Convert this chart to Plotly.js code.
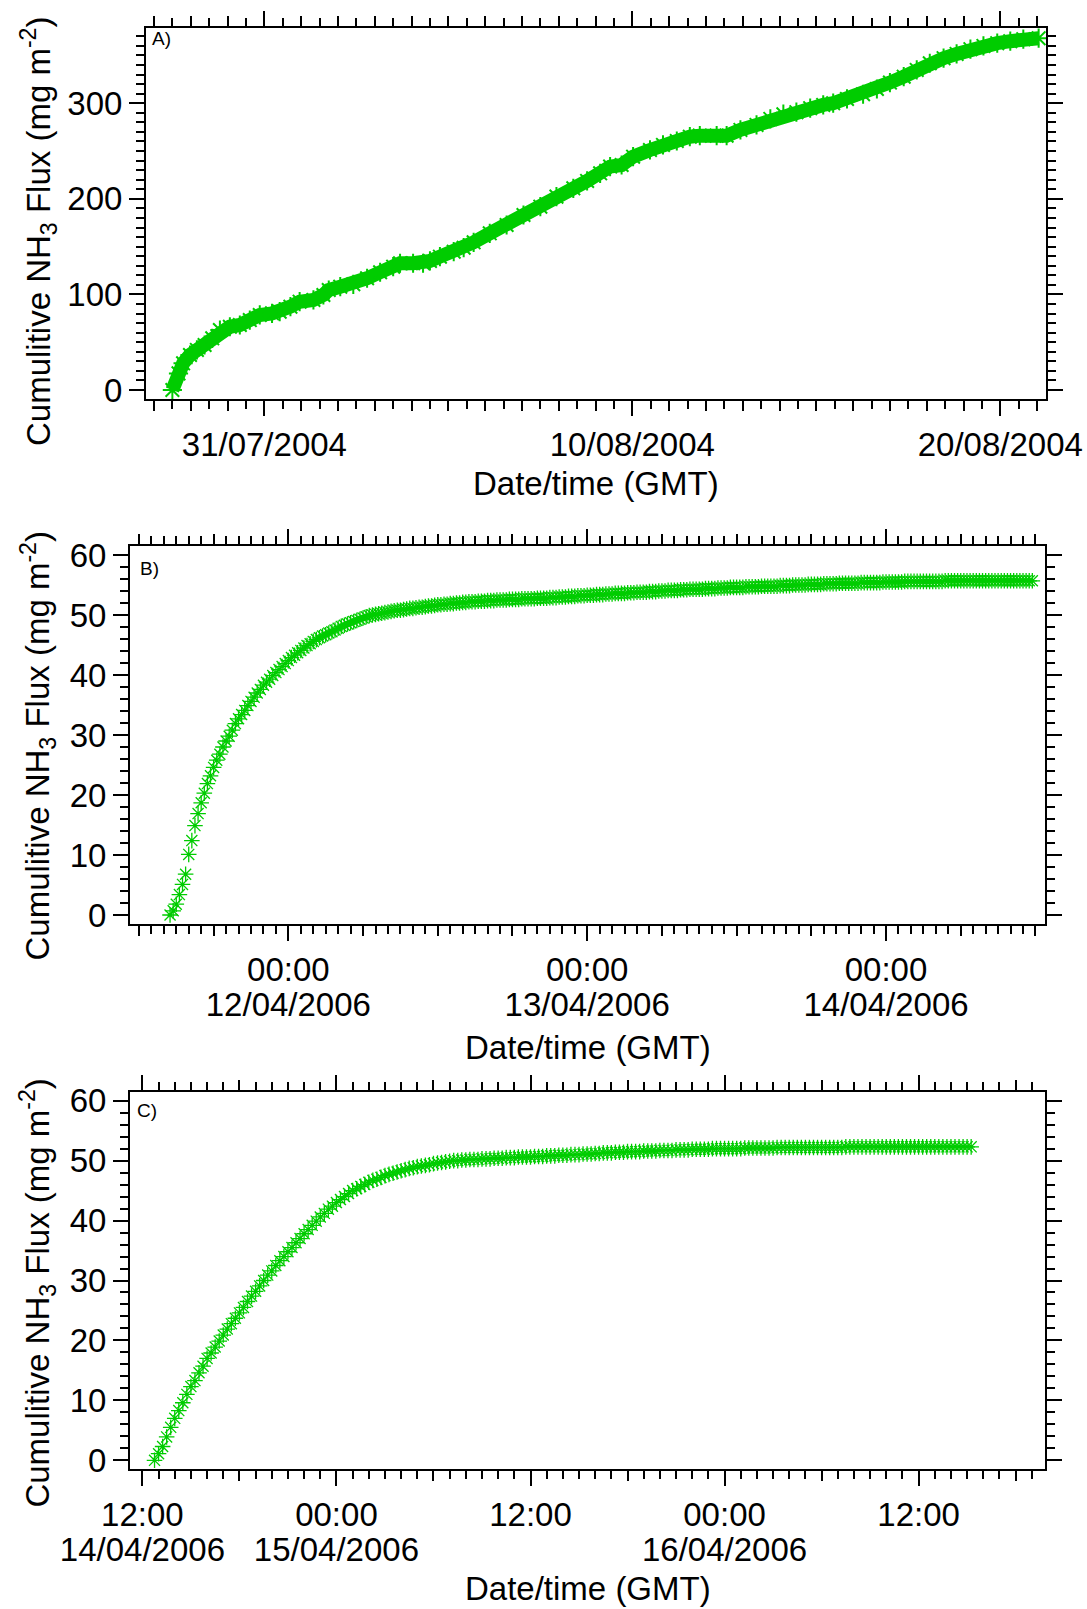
<!DOCTYPE html>
<html><head><meta charset="utf-8">
<script src="https://cdn.plot.ly/plotly-3.0.1.min.js"></script>
<style>body{margin:0;background:#fff}#chart{width:1087px;height:1609px}</style>
</head><body><div id="chart"></div>
<script>
// ---------------- DATA ----------------
// Panel A: cumulative flux, summer 2004 (read along the marker band)
const aTimes = ['2004-07-28 12:00','2004-07-28 16:00','2004-07-28 19:00','2004-07-28 23:30','2004-07-29 04:00','2004-07-29 09:00','2004-07-29 14:00','2004-07-29 19:00','2004-07-30 01:30','2004-07-30 08:00','2004-07-30 14:30','2004-07-30 21:00','2004-07-31 05:00','2004-07-31 10:00','2004-07-31 17:00','2004-07-31 23:00','2004-08-01 08:00','2004-08-01 14:30','2004-08-01 18:00','2004-08-02 01:30','2004-08-02 10:00','2004-08-02 19:00','2004-08-03 03:30','2004-08-03 12:00','2004-08-03 16:30','2004-08-04 01:00','2004-08-04 07:30','2004-08-04 12:00','2004-08-04 18:30','2004-08-05 03:30','2004-08-05 10:00','2004-08-05 16:30','2004-08-06 03:00','2004-08-06 14:00','2004-08-07 01:00','2004-08-07 12:00','2004-08-07 22:30','2004-08-08 09:30','2004-08-08 18:30','2004-08-09 03:00','2004-08-09 09:30','2004-08-09 17:00','2004-08-10 00:30','2004-08-10 11:30','2004-08-10 20:00','2004-08-11 05:00','2004-08-11 13:30','2004-08-11 20:00','2004-08-12 07:00','2004-08-12 13:30','2004-08-12 22:30','2004-08-13 09:00','2004-08-13 18:00','2004-08-14 02:30','2004-08-14 11:00','2004-08-14 20:00','2004-08-15 04:30','2004-08-15 11:00','2004-08-15 20:00','2004-08-16 06:30','2004-08-16 15:30','2004-08-17 00:00','2004-08-17 09:00','2004-08-17 17:30','2004-08-18 02:00','2004-08-18 11:00','2004-08-18 19:30','2004-08-19 04:30','2004-08-19 13:00','2004-08-19 22:00','2004-08-20 06:30','2004-08-20 15:00','2004-08-21 01:00'];
const aFlux = [0,17.4,27.9,36.6,41.9,47.1,54.1,62.8,66.2,68.0,73.2,78.5,80.2,81.9,87.2,92.4,94.2,99.4,104.6,108.1,110.6,116.9,123.2,129.0,132.6,132.6,132.6,135.0,139.5,144.7,148.9,154.5,163.9,172.6,183.1,191.8,202.3,211.0,218.7,226.7,233.7,235.4,244.1,251.1,256.4,260.5,265.0,266.1,266.1,266.1,272.1,277.3,283.6,288.5,290.6,294.8,298.2,300.0,304.5,309.4,314.9,321.6,327.8,334.8,341.8,347.1,351.6,356.5,359.9,362.8,364.9,367.0,368.0];

// Panel B: 15-minute samples starting 11/04/2006 14:30
const bStart = '2006-04-11 14:30';
const bStepMinutes = 15;
const bFlux = [0,0.7,1.8,3.4,5.1,6.8,10.1,12.4,14.9,16.9,
18.7,20.3,21.9,23.2,24.6,25.8,26.8,28.0,29.0,29.8,
30.8,31.9,32.7,33.4,34.1,34.9,35.6,36.3,37.0,37.6,
38.3,38.8,39.3,39.9,40.4,40.9,41.4,41.9,42.4,42.9,
43.3,43.7,44.1,44.5,44.9,45.2,45.6,45.9,46.2,46.5,
46.7,47.0,47.2,47.5,47.8,48.1,48.3,48.5,48.7,48.9,
49.1,49.3,49.5,49.7,49.9,50.0,50.1,50.2,50.3,50.4,
50.5,50.6,50.7,50.8,50.8,50.9,51.0,51.1,51.1,51.2,
51.3,51.3,51.4,51.5,51.5,51.6,51.7,51.7,51.8,51.8,
51.9,51.9,52.0,52.0,52.1,52.1,52.2,52.2,52.2,52.3,
52.3,52.3,52.4,52.4,52.4,52.5,52.5,52.5,52.5,52.6,
52.6,52.6,52.6,52.7,52.7,52.7,52.7,52.7,52.8,52.8,
52.8,52.8,52.9,52.9,52.9,53.0,53.0,53.0,53.1,53.1,
53.1,53.2,53.2,53.2,53.3,53.3,53.3,53.4,53.4,53.4,
53.5,53.5,53.5,53.6,53.6,53.6,53.6,53.7,53.7,53.7,
53.8,53.8,53.8,53.8,53.9,53.9,53.9,54.0,54.0,54.0,
54.1,54.1,54.1,54.1,54.2,54.2,54.2,54.3,54.3,54.3,
54.3,54.3,54.4,54.4,54.4,54.4,54.5,54.5,54.5,54.5,
54.6,54.6,54.6,54.6,54.6,54.7,54.7,54.7,54.7,54.7,
54.8,54.8,54.8,54.8,54.8,54.8,54.9,54.9,54.9,54.9,
55.0,55.0,55.0,55.0,55.0,55.1,55.1,55.1,55.1,55.1,
55.2,55.2,55.2,55.2,55.2,55.3,55.3,55.3,55.3,55.3,
55.3,55.3,55.4,55.4,55.4,55.4,55.4,55.4,55.4,55.5,
55.5,55.5,55.5,55.5,55.5,55.5,55.6,55.6,55.6,55.6,
55.6,55.6,55.6,55.6,55.6,55.6,55.6,55.6,55.6,55.7,
55.7,55.7,55.7,55.7,55.7,55.7,55.7,55.7,55.7,55.7,
55.7,55.7,55.7,55.7,55.7,55.7,55.7,55.7,55.7,55.7,
55.7,55.7,55.7,55.7,55.7,55.7,55.7,55.7];

// Panel C: 15-minute samples starting 14/04/2006 12:45
const cStart = '2006-04-14 12:45';
const cStepMinutes = 15;
const cFlux = [0,1.1,2.3,3.9,5.5,7.0,8.3,9.6,11.0,12.3,
13.3,14.6,15.7,17.0,17.9,18.9,19.9,20.9,21.9,22.8,
23.7,24.6,25.5,26.5,27.4,28.2,29.1,30.0,30.9,31.6,
32.5,33.3,34.0,34.8,35.5,36.3,37.0,37.8,38.5,39.2,
39.9,40.6,41.2,41.9,42.4,43.0,43.5,44.0,44.5,45.0,
45.3,45.7,46.0,46.4,46.7,46.9,47.2,47.5,47.7,47.9,
48.1,48.3,48.5,48.7,48.8,49.0,49.1,49.2,49.3,49.5,
49.6,49.7,49.8,49.9,50.0,50.0,50.1,50.1,50.2,50.2,
50.2,50.3,50.3,50.3,50.4,50.4,50.4,50.5,50.5,50.5,
50.6,50.6,50.6,50.6,50.7,50.7,50.7,50.8,50.8,50.8,
50.9,50.9,50.9,51.0,51.0,51.0,51.1,51.1,51.1,51.2,
51.2,51.3,51.3,51.3,51.4,51.4,51.4,51.5,51.5,51.5,
51.5,51.6,51.6,51.6,51.6,51.7,51.7,51.7,51.7,51.8,
51.8,51.8,51.8,51.9,51.9,51.9,51.9,51.9,52.0,52.0,
52.0,52.0,52.0,52.0,52.0,52.0,52.1,52.1,52.1,52.1,
52.1,52.1,52.1,52.1,52.2,52.2,52.2,52.2,52.2,52.2,
52.2,52.2,52.2,52.2,52.2,52.2,52.2,52.2,52.2,52.2,
52.2,52.3,52.3,52.3,52.3,52.3,52.3,52.3,52.3,52.3,
52.3,52.3,52.3,52.3,52.3,52.3,52.3,52.3,52.3,52.3,
52.3,52.3,52.3,52.3,52.3,52.3,52.3,52.3,52.3,52.3,
52.3,52.3,52.3];

// Tick labels
const aTickVals = ['2004-07-31','2004-08-10','2004-08-20'];
const aTickText = ['31/07/2004','10/08/2004','20/08/2004'];
const bTickVals = ['2006-04-12','2006-04-13','2006-04-14'];
const bTimeText = ['00:00','00:00','00:00'];
const bDateText = ['12/04/2006','13/04/2006','14/04/2006'];
const cTickVals = ['2006-04-14 12:00','2006-04-15 00:00','2006-04-15 12:00','2006-04-16 00:00','2006-04-16 12:00'];
const cTimeText = ['12:00','00:00','12:00','00:00','12:00'];
const cDateVals = ['2006-04-14 12:00','2006-04-15 00:00','2006-04-16 00:00'];
const cDateText = ['14/04/2006','15/04/2006','16/04/2006'];
const panelLabels = ['A)','B)','C)'];
const yTitle = 'Cumulitive NH<sub>3</sub> Flux (mg m<sup>-2</sup>)';
const xTitle = 'Date/time (GMT)';

// ---------------- BUILD ----------------
function timeBase(start, stepMin, n){
  const t0 = Date.parse(start.replace(' ','T') + ':00Z');
  const out = [];
  for (let i = 0; i < n; i++) out.push(new Date(t0 + i*stepMin*60000).toISOString().slice(0,16).replace('T',' '));
  return out;
}
const bTimes = timeBase(bStart, bStepMinutes, bFlux.length);
const cTimes = timeBase(cStart, cStepMinutes, cFlux.length);

const W = 1087, H = 1609;
const GREEN = '#00CC00';
const FONT = 'Liberation Sans, Arial, sans-serif';
const FS = 33;
const px = v => v / W;
const py = v => 1 - v / H;

const frames = {
  A: {l:146, r:1046, t:27.7, b:399},
  B: {l:130, r:1045, t:546, b:924},
  C: {l:130, r:1045, t:1091.7, b:1469.3}
};
const HOUR = 3600000, DAY = 86400000;

function xMain(f, range, vals, text, minorDtick, minorTick0, anchor){
  return {type:'date', domain:[px(f.l), px(f.r)], range, anchor,
    tickmode:'array', tickvals:vals, ticktext:text,
    ticks:'outside', ticklen:15, tickwidth:2, tickcolor:'#000',
    showline:true, linewidth:2, linecolor:'#000', mirror:'ticks',
    showgrid:false, zeroline:false, automargin:false, fixedrange:true,
    tickfont:{family:FONT, size:FS, color:'#000'},
    minor:{tickmode:'linear', dtick:minorDtick, tick0:minorTick0, ticks:'outside', ticklen:8, tickwidth:2, tickcolor:'#000', showgrid:false}};
}
function xMid(over, anchor, range, dtick, tick0){
  return {type:'date', overlaying:over, anchor, range, tickmode:'linear', dtick, tick0,
    ticks:'outside', ticklen:11, tickwidth:2, tickcolor:'#000', showticklabels:false,
    showline:false, showgrid:false, zeroline:false, mirror:'ticks', automargin:false, fixedrange:true};
}
function xDates(over, anchor, range, vals, text){
  return {type:'date', overlaying:over, anchor, range, tickmode:'array', tickvals:vals, ticktext:text,
    ticks:'', ticklabelstandoff:58, showline:false, showgrid:false, zeroline:false, automargin:false, fixedrange:true,
    tickfont:{family:FONT, size:FS, color:'#000'}};
}
function yAx(f, range, dtick, minorDtick, anchor){
  return {domain:[py(f.b), py(f.t)], range, anchor, tickmode:'linear', tick0:0, dtick,
    ticks:'outside', ticklen:15, tickwidth:2, tickcolor:'#000',
    showline:true, linewidth:2, linecolor:'#000', mirror:'ticks',
    showgrid:false, zeroline:false, automargin:false, fixedrange:true,
    tickfont:{family:FONT, size:FS, color:'#000'},
    minor:{tickmode:'linear', dtick:minorDtick, tick0:0, ticks:'outside', ticklen:8, tickwidth:2, tickcolor:'#000', showgrid:false}};
}

const aRange = ['2004-07-27 18:48','2004-08-21 05:48'];
const bRange = ['2006-04-11 11:17','2006-04-14 12:46'];
const cRange = ['2006-04-14 11:14','2006-04-16 19:49'];

const marker = {symbol:'asterisk-open', size:13, color:GREEN, line:{color:GREEN, width:1.3}};
const traces = [
  {type:'scatter', mode:'lines+markers', x:aTimes, y:aFlux, xaxis:'x', yaxis:'y',
   line:{color:GREEN, width:14}, marker:{symbol:'asterisk-open', size:16, color:GREEN, line:{color:GREEN, width:2}}, hoverinfo:'skip'},
  {type:'scatter', mode:'markers', x:bTimes, y:bFlux, xaxis:'x2', yaxis:'y2', marker, hoverinfo:'skip'},
  {type:'scatter', mode:'markers', x:cTimes, y:cFlux, xaxis:'x3', yaxis:'y3', marker, hoverinfo:'skip'},
  {type:'scatter', mode:'markers', x:[], y:[], xaxis:'x4', yaxis:'y', hoverinfo:'skip'},
  {type:'scatter', mode:'markers', x:[], y:[], xaxis:'x5', yaxis:'y2', hoverinfo:'skip'},
  {type:'scatter', mode:'markers', x:[], y:[], xaxis:'x6', yaxis:'y3', hoverinfo:'skip'},
  {type:'scatter', mode:'markers', x:[], y:[], xaxis:'x7', yaxis:'y2', hoverinfo:'skip'},
  {type:'scatter', mode:'markers', x:[], y:[], xaxis:'x8', yaxis:'y3', hoverinfo:'skip'}
];

const ann = [];
function txt(text, x, y, size, opts){
  ann.push(Object.assign({text, xref:'paper', yref:'paper', x:px(x), y:py(y), showarrow:false,
    xanchor:'center', yanchor:'middle', font:{family:FONT, size, color:'#000'}}, opts||{}));
}
txt(panelLabels[0], 150, 39, 19, {xanchor:'left'});
txt(panelLabels[1], 138, 568, 19, {xanchor:'left'});
txt(panelLabels[2], 135, 1110.6, 19, {xanchor:'left'});
txt(yTitle, 38, 232, FS, {textangle:-90});
txt(yTitle, 38, 746.5, FS, {textangle:-90});
txt(yTitle, 38, 1293.6, FS, {textangle:-90});
txt(xTitle, 596, 483.5, FS);
txt(xTitle, 587.5, 1047, FS);
txt(xTitle, 587.5, 1588, FS);

const layout = {
  width:W, height:H, margin:{l:0,r:0,t:0,b:0}, paper_bgcolor:'#fff', plot_bgcolor:'#fff',
  showlegend:false, font:{family:FONT, color:'#000'},
  xaxis: xMain(frames.A, aRange, aTickVals, aTickText, 12*HOUR, '2004-07-28 00:00', 'y'),
  yaxis: yAx(frames.A, [-9.4, 379], 100, 10, 'x'),
  xaxis2: xMain(frames.B, bRange, bTickVals, bTimeText, HOUR, '2006-04-11 00:00', 'y2'),
  yaxis2: yAx(frames.B, [-1.5, 61.5], 10, 2, 'x2'),
  xaxis3: xMain(frames.C, cRange, cTickVals, cTimeText, HOUR, '2006-04-14 00:00', 'y3'),
  yaxis3: yAx(frames.C, [-1.5, 61.5], 10, 2, 'x3'),
  xaxis4: xMid('x', 'y', aRange, DAY, '2004-07-28 00:00'),
  xaxis5: xMid('x2', 'y2', bRange, 6*HOUR, '2006-04-11 00:00'),
  xaxis6: xMid('x3', 'y3', cRange, 6*HOUR, '2006-04-14 00:00'),
  xaxis7: xDates('x2', 'y2', bRange, bTickVals, bDateText),
  xaxis8: xDates('x3', 'y3', cRange, cDateVals, cDateText),
  annotations: ann
};
Plotly.newPlot('chart', traces, layout, {staticPlot:true, displayModeBar:false});
</script></body></html>
